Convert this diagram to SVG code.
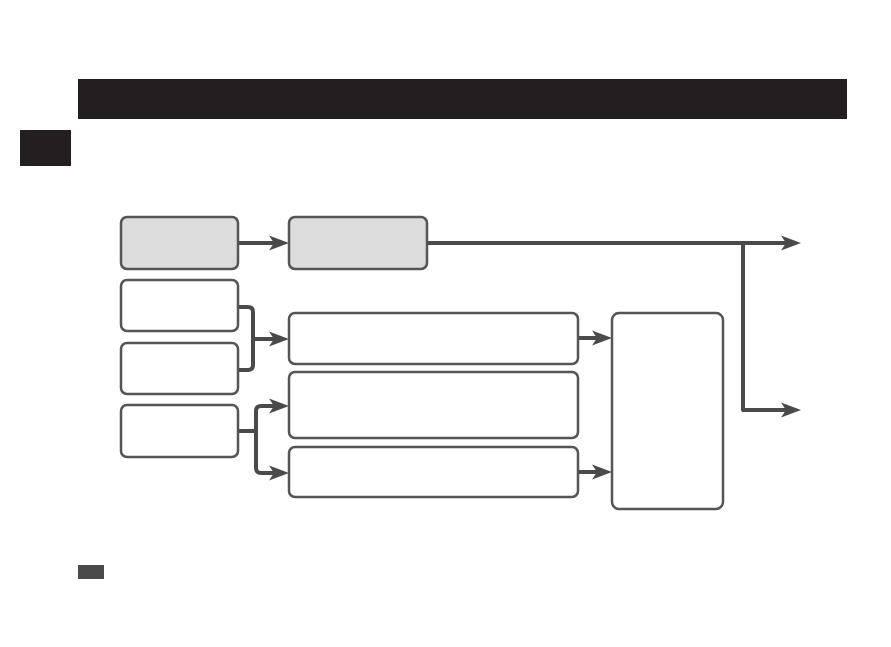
<svg xmlns="http://www.w3.org/2000/svg" width="891" height="647" viewBox="0 0 891 647">
<style>
.box{fill:#ffffff;stroke:#555555;stroke-width:2.5}
.gbox{fill:#dcdcdc;stroke:#555555;stroke-width:2.5}
.conn{fill:none;stroke:#4a4a4a;stroke-width:4;stroke-linejoin:round}
</style>
<defs>
<marker id="arr" markerUnits="userSpaceOnUse" markerWidth="20" markerHeight="15" refX="5" refY="7.5" orient="auto" overflow="visible">
<path d="M0,0 L20,7.5 L0,15 L5,7.5 Z" fill="#4a4a4a"/>
</marker>
</defs>
<rect width="891" height="647" fill="#ffffff"/>
<g id="header"><rect x="78" y="79" width="769" height="40" fill="#231f20"/></g>
<g id="tab"><rect x="20" y="130" width="51" height="36" fill="#231f20"/></g>
<g id="note"><rect x="78" y="565" width="26" height="14" fill="#4a4a4a"/></g>
<g id="connectors">
<path class="conn" d="M427,243 H786" marker-end="url(#arr)"/>
<path class="conn" d="M743,243 V410 H786" marker-end="url(#arr)"/>
<path class="conn" d="M238,243 H274" marker-end="url(#arr)"/>
<path class="conn" d="M238,307 H248 Q253,307 253,312 V365 Q253,370 248,370 H238"/>
<path class="conn" d="M253,339 H274" marker-end="url(#arr)"/>
<path class="conn" d="M238,431 H256"/>
<path class="conn" d="M256,431 V411 Q256,406 261,406 H274" marker-end="url(#arr)"/>
<path class="conn" d="M256,431 V468 Q256,473 261,473 H274" marker-end="url(#arr)"/>
<path class="conn" d="M578,338 H597" marker-end="url(#arr)"/>
<path class="conn" d="M578,472 H597" marker-end="url(#arr)"/>
</g>
<g id="n1"><rect class="gbox" x="121" y="217" width="117" height="52" rx="6"/></g>
<g id="n2"><rect class="gbox" x="289" y="217" width="138" height="52" rx="6"/></g>
<g id="n3"><rect class="box" x="121" y="280" width="117" height="51" rx="6"/></g>
<g id="n4"><rect class="box" x="121" y="343" width="117" height="51" rx="6"/></g>
<g id="n5"><rect class="box" x="121" y="405" width="117" height="52" rx="6"/></g>
<g id="n6"><rect class="box" x="289" y="313" width="289" height="51" rx="6"/></g>
<g id="n7"><rect class="box" x="289" y="372" width="289" height="66" rx="6"/></g>
<g id="n8"><rect class="box" x="289" y="447" width="289" height="50" rx="6"/></g>
<g id="n9"><rect class="box" x="612" y="313" width="111" height="196" rx="7"/></g>
</svg>
